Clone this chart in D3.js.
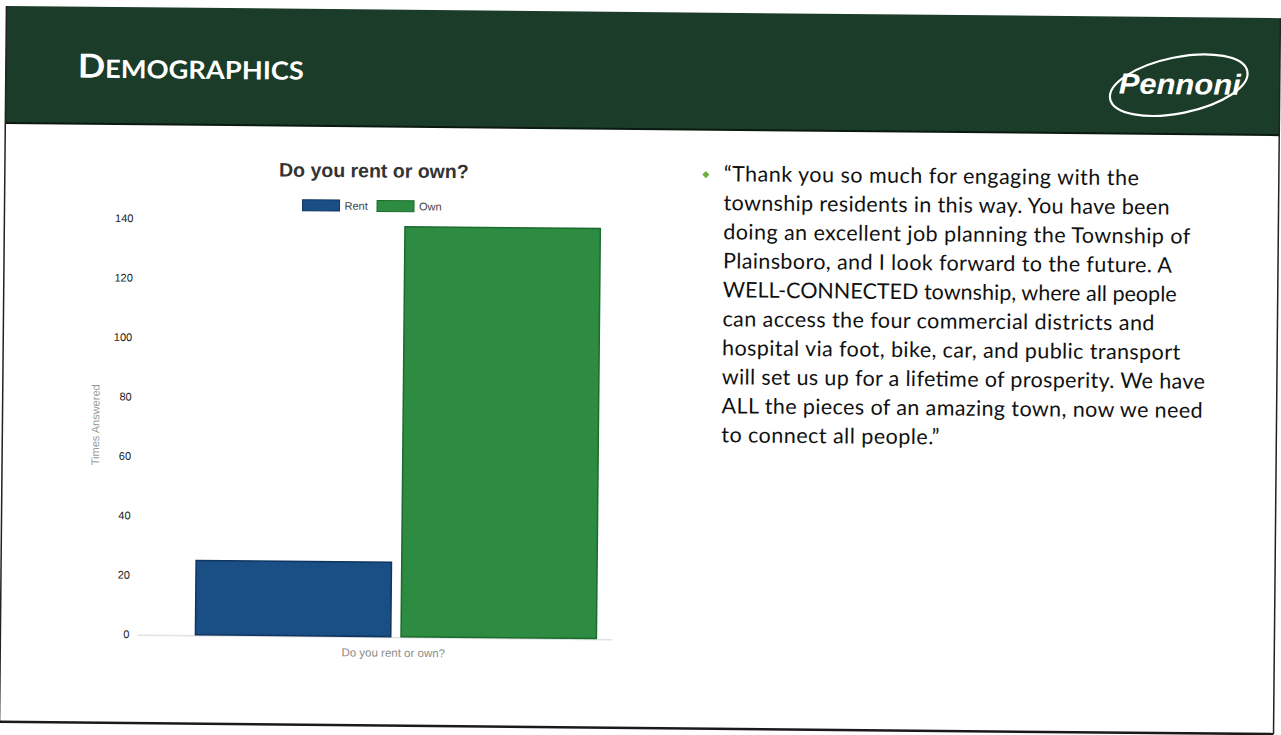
<!DOCTYPE html>
<html>
<head>
<meta charset="utf-8">
<script src="https://cdn.jsdelivr.net/npm/d3@7"></script>
<style>
  html, body { margin: 0; padding: 0; background: #fff; }
  svg { display: block; }
</style>
</head>
<body>
<div id="slide"></div>
<script>
// chart data
var categories = ['Rent', 'Own'];
var counts = [25, 138];
var groups = ['Do you rent or own?'];
var yTicks = [0, 20, 40, 60, 80, 100, 120, 140];

var chartTitle = 'Do you rent or own?';
var yTitle = 'Times Answered';

var quoteLines = [
  '\u201cThank you so much for engaging with the',
  'township residents in this way. You have been',
  'doing an excellent job planning the Township of',
  'Plainsboro, and I look forward to the future. A',
  'WELL-CONNECTED township, where all people',
  'can access the four commercial districts and',
  'hospital via foot, bike, car, and public transport',
  'will set us up for a lifetime of prosperity. We have',
  'ALL the pieces of an amazing town, now we need',
  'to connect all people.\u201d'
];
// measured line widths of the slide text (layout only)
var quoteWidths = [415, 446, 467, 449, 454, 432, 458, 483, 481, 218];

var fills = {Rent: '#1a4f85', Own: '#2d8c42'};
var strokes = {Rent: '#0f3560', Own: '#1b6b2d'};

var W = 1281, H = 735;

var svg = d3.select('#slide')
    .append('svg')
    .attr('width', W)
    .attr('height', H);

// the scanned slide is a little tilted
var page = svg.append('g')
    .attr('transform', 'rotate(0.55,640,367)');

page.append('rect')
    .attr('x', 3).attr('y', 12)
    .attr('width', 1274).attr('height', 716)
    .attr('fill', '#fff');

// header band
page.append('rect')
    .attr('x', 3).attr('y', 12)
    .attr('width', 1274).attr('height', 117)
    .attr('fill', '#1b3c29');

page.append('line')
    .attr('x1', 3).attr('x2', 1277)
    .attr('y1', 129).attr('y2', 129)
    .attr('stroke', '#0b1a10')
    .attr('stroke-width', 2);

var head = page.append('text')
    .attr('x', 75)
    .attr('y', 83)
    .attr('fill', '#fff')
    .attr('font-family', 'Lato, "Open Sans", sans-serif')
    .attr('font-weight', 700)
    .attr('textLength', 226)
    .attr('lengthAdjust', 'spacingAndGlyphs');
head.append('tspan').attr('font-size', 33).text('D');
head.append('tspan').attr('font-size', 25).text('EMOGRAPHICS');

// logo
page.append('ellipse')
    .attr('cx', 1176).attr('cy', 80)
    .attr('rx', 70).attr('ry', 28)
    .attr('transform', 'rotate(-12,1176,80)')
    .attr('fill', 'none')
    .attr('stroke', '#fff')
    .attr('stroke-width', 2.2);

page.append('text')
    .attr('x', 1177)
    .attr('y', 89)
    .attr('text-anchor', 'middle')
    .attr('fill', '#fff')
    .attr('font-family', '"Liberation Sans", Arial, sans-serif')
    .attr('font-weight', 700)
    .attr('font-style', 'italic')
    .attr('font-size', 29)
    .attr('textLength', 122)
    .attr('lengthAdjust', 'spacingAndGlyphs')
    .text('Pennoni');

// slide border
page.append('line')
    .attr('x1', 3).attr('x2', 3).attr('y1', 12).attr('y2', 728)
    .attr('stroke', '#222').attr('stroke-width', 1.5);
page.append('line')
    .attr('x1', 1277).attr('x2', 1277).attr('y1', 12).attr('y2', 728)
    .attr('stroke', '#222').attr('stroke-width', 1.5);
page.append('line')
    .attr('x1', 3).attr('x2', 1277).attr('y1', 728).attr('y2', 728)
    .attr('stroke', '#1a1a1a').attr('stroke-width', 2.5);

// ---- bar chart ----
var yScale = d3.scaleLinear()
    .domain([0, 140])
    .range([639, 223]);

var x0 = d3.scaleBand()
    .domain(groups)
    .range([186, 606]);

var x1 = d3.scaleBand()
    .domain(categories)
    .range([12, 413])
    .paddingInner(0.05);

var chart = page.append('g')
    .style('font-family', '"Liberation Sans", Arial, sans-serif');

chart.append('text')
    .attr('x', 372)
    .attr('y', 180)
    .attr('text-anchor', 'middle')
    .attr('font-size', 19.5)
    .attr('font-weight', 700)
    .attr('fill', '#333')
    .text(chartTitle);

// legend
var legend = chart.append('g')
    .attr('transform', 'translate(301,203)');
var lx = 0;
categories.forEach(function(c) {
  legend.append('rect')
      .attr('x', lx).attr('y', 0)
      .attr('width', 37).attr('height', 11)
      .attr('fill', fills[c])
      .attr('stroke', strokes[c])
      .attr('stroke-width', 1);
  legend.append('text')
      .attr('x', lx + 42)
      .attr('y', 9.5)
      .attr('font-size', 11)
      .attr('fill', '#444')
      .text(c);
  lx += 74.5;
});

// baseline
chart.append('line')
    .attr('x1', 140).attr('x2', 615)
    .attr('y1', yScale(0) + 1).attr('y2', yScale(0) + 1)
    .attr('stroke', '#e2e2e2')
    .attr('stroke-width', 1.5);

var yAxis = d3.axisLeft(yScale)
    .tickValues(yTicks)
    .tickSize(0)
    .tickPadding(3);

var yG = chart.append('g')
    .attr('transform', 'translate(135,0)')
    .call(yAxis);
yG.select('.domain').remove();
yG.selectAll('text')
    .attr('font-size', 11)
    .attr('font-family', '"Liberation Sans", Arial, sans-serif')
    .attr('fill', '#222');

chart.append('text')
    .attr('transform', 'translate(96,430) rotate(-90)')
    .attr('text-anchor', 'middle')
    .attr('dy', '0.35em')
    .attr('font-size', 11)
    .attr('fill', '#9a9a9a')
    .text(yTitle);

var xAxis = d3.axisBottom(x0)
    .tickSize(0)
    .tickPadding(12);

var xG = chart.append('g')
    .attr('transform', 'translate(0,' + yScale(0) + ')')
    .call(xAxis);
xG.select('.domain').remove();
xG.selectAll('text')
    .attr('font-size', 11.5)
    .attr('font-family', '"Liberation Sans", Arial, sans-serif')
    .attr('fill', '#8a8a8a');

var barG = chart.append('g')
    .attr('transform', 'translate(' + x0(groups[0]) + ',0)');

barG.selectAll('rect')
    .data(categories)
    .enter()
    .append('rect')
    .attr('x', function(d) { return x1(d); })
    .attr('y', function(d, i) { return yScale(counts[i]); })
    .attr('width', x1.bandwidth())
    .attr('height', function(d, i) { return yScale(0) - yScale(counts[i]); })
    .attr('fill', function(d) { return fills[d]; })
    .attr('stroke', function(d) { return strokes[d]; })
    .attr('stroke-width', 1.5);

// ---- quote ----
page.append('rect')
    .attr('x', 701.5).attr('y', 171.5)
    .attr('width', 5).attr('height', 5)
    .attr('transform', 'rotate(45,704,174)')
    .attr('fill', '#6fb03a');

var quote = page.append('text')
    .attr('font-family', 'Lato, "Open Sans", sans-serif')
    .attr('font-size', 21.5)
    .attr('fill', '#111');

quote.selectAll('tspan')
    .data(quoteLines)
    .enter()
    .append('tspan')
    .attr('x', 722)
    .attr('y', function(d, i) { return 180.5 + i * 29; })
    .attr('textLength', function(d, i) { return quoteWidths[i]; })
    .attr('lengthAdjust', 'spacing')
    .text(function(d) { return d; });
</script>
</body>
</html>
